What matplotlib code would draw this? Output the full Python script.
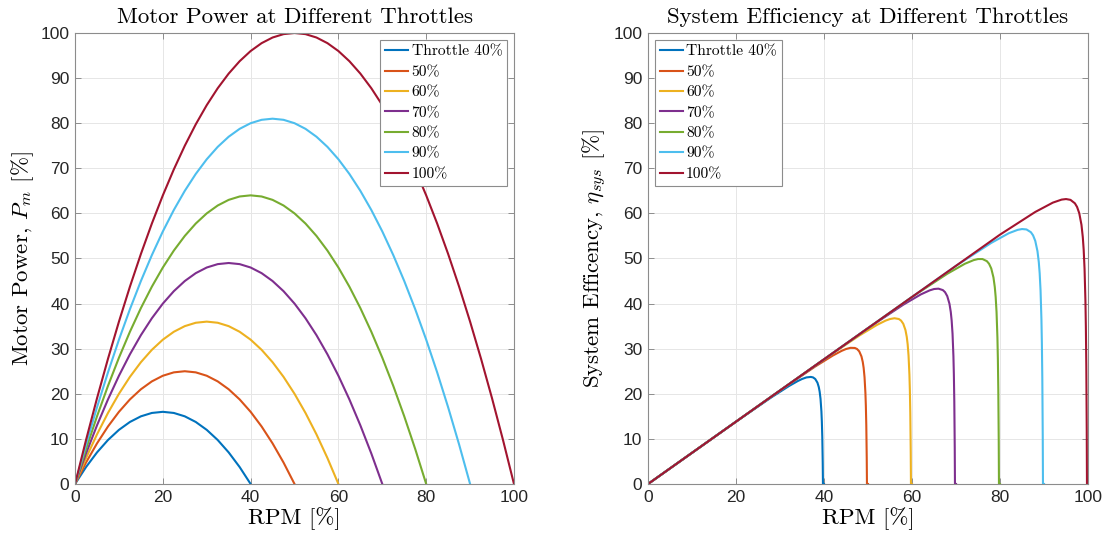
import matplotlib
matplotlib.use('Agg')
import matplotlib.pyplot as plt

# ---- data ----
throttles = ['Throttle 40%', '50%', '60%', '70%', '80%', '90%', '100%']
colors = ['#0072BD', '#D95319', '#EDB120', '#7E2F8E', '#77AC30', '#4DBEEE', '#A2142F']

# shared RPM grid for the motor power curves [%]
rpm_grid = [0, 2.5, 5, 7.5, 10, 12.5, 15, 17.5, 20, 22.5, 25, 27.5, 30, 32.5, 35, 37.5,
            40, 42.5, 45, 47.5, 50, 52.5, 55, 57.5, 60, 62.5, 65, 67.5, 70, 72.5, 75,
            77.5, 80, 82.5, 85, 87.5, 90, 92.5, 95, 97.5, 100]

power_40 = [0, 3.75, 7, 9.75, 12, 13.75, 15, 15.75, 16, 15.75, 15, 13.75, 12, 9.75, 7, 3.75, 0]
power_50 = [0, 4.75, 9, 12.75, 16, 18.75, 21, 22.75, 24, 24.75, 25, 24.75, 24, 22.75, 21,
            18.75, 16, 12.75, 9, 4.75, 0]
power_60 = [0, 5.75, 11, 15.75, 20, 23.75, 27, 29.75, 32, 33.75, 35, 35.75, 36, 35.75, 35,
            33.75, 32, 29.75, 27, 23.75, 20, 15.75, 11, 5.75, 0]
power_70 = [0, 6.75, 13, 18.75, 24, 28.75, 33, 36.75, 40, 42.75, 45, 46.75, 48, 48.75, 49,
            48.75, 48, 46.75, 45, 42.75, 40, 36.75, 33, 28.75, 24, 18.75, 13, 6.75, 0]
power_80 = [0, 7.75, 15, 21.75, 28, 33.75, 39, 43.75, 48, 51.75, 55, 57.75, 60, 61.75, 63,
            63.75, 64, 63.75, 63, 61.75, 60, 57.75, 55, 51.75, 48, 43.75, 39, 33.75, 28,
            21.75, 15, 7.75, 0]
power_90 = [0, 8.75, 17, 24.75, 32, 38.75, 45, 50.75, 56, 60.75, 65, 68.75, 72, 74.75, 77,
            78.75, 80, 80.75, 81, 80.75, 80, 78.75, 77, 74.75, 72, 68.75, 65, 60.75, 56,
            50.75, 45, 38.75, 32, 24.75, 17, 8.75, 0]
power_100 = [0, 9.75, 19, 27.75, 36, 43.75, 51, 57.75, 64, 69.75, 75, 79.75, 84, 87.75, 91,
             93.75, 96, 97.75, 99, 99.75, 100, 99.75, 99, 97.75, 96, 93.75, 91, 87.75, 84,
             79.75, 75, 69.75, 64, 57.75, 51, 43.75, 36, 27.75, 19, 9.75, 0]

# system efficiency curves: RPM [%] and efficiency [%]
eff_rpm_40 = [0, 20, 28, 32, 34, 35, 36, 37, 37.5, 38, 38.5, 38.8, 39, 39.2, 39.4, 39.5, 39.6, 39.7, 39.75, 40]
eff_40 = [0, 13.83, 19.19, 21.70, 22.81, 23.28, 23.63, 23.74, 23.63, 23.28, 22.46, 21.50,
          20.48, 18.87, 16.09, 13.83, 10.40, 4.63, 0, 0]
eff_rpm_50 = [0, 30, 38, 42, 44, 45, 46, 47, 47.5, 48, 48.5, 48.8, 49, 49.2, 49.4, 49.5, 49.6, 49.7, 49.75, 50]
eff_50 = [0, 20.74, 26.05, 28.48, 29.52, 29.93, 30.19, 30.16, 29.93, 29.40, 28.29, 27.04,
          25.73, 23.68, 20.17, 17.33, 13.02, 5.80, 0, 0]
eff_rpm_60 = [0, 40, 48, 52, 54, 55, 56, 57, 57.5, 58, 58.5, 58.8, 59, 59.2, 59.4, 59.5, 59.6, 59.7, 59.75, 60]
eff_60 = [0, 27.65, 32.90, 35.26, 36.23, 36.58, 36.75, 36.58, 36.23, 35.53, 34.13, 32.59,
          30.98, 28.49, 24.26, 20.83, 15.65, 6.97, 0, 0]
eff_rpm_70 = [0, 50, 58, 62, 64, 65, 66, 67, 67.5, 68, 68.5, 68.8, 69, 69.2, 69.4, 69.5, 69.6, 69.7, 69.75, 70]
eff_70 = [0, 34.56, 39.75, 42.04, 42.93, 43.23, 43.31, 42.99, 42.53, 41.65, 39.96, 38.13,
          36.23, 33.30, 28.34, 24.33, 18.27, 8.13, 0, 0]
eff_rpm_80 = [0, 60, 68, 72, 74, 75, 76, 77, 77.5, 78, 78.5, 78.8, 79, 79.2, 79.4, 79.5, 79.6, 79.7, 79.75, 80]
eff_80 = [0, 41.48, 46.61, 48.83, 49.64, 49.88, 49.88, 49.41, 48.83, 47.78, 45.79, 43.67,
          41.48, 38.12, 32.42, 27.83, 20.90, 9.30, 0, 0]
eff_rpm_90 = [0, 70, 78, 82, 84, 85, 86, 87, 87.5, 88, 88.5, 88.8, 89, 89.2, 89.4, 89.5, 89.6, 89.7, 89.75, 90]
eff_90 = [0, 48.39, 53.46, 55.61, 56.35, 56.53, 56.44, 55.83, 55.13, 53.90, 51.62, 49.21,
          46.73, 42.93, 36.51, 31.33, 23.52, 10.47, 0, 0]
eff_rpm_100 = [0, 80, 88, 92, 94, 95, 96, 97, 97.5, 98, 98.5, 98.8, 99, 99.2, 99.4, 99.5, 99.6, 99.7, 99.75, 100]
eff_100 = [0, 55.30, 60.32, 62.39, 63.06, 63.18, 63.00, 62.24, 61.43, 60.03, 57.46, 54.75,
           51.98, 47.74, 40.59, 34.83, 26.15, 11.63, 0, 0]

power_curves = [power_40, power_50, power_60, power_70, power_80, power_90, power_100]
eff_curves = [(eff_rpm_40, eff_40), (eff_rpm_50, eff_50), (eff_rpm_60, eff_60),
              (eff_rpm_70, eff_70), (eff_rpm_80, eff_80), (eff_rpm_90, eff_90),
              (eff_rpm_100, eff_100)]

ticks = [0, 20, 40, 60, 80, 100]
yticks = list(range(0, 101, 10))

plt.rcParams['mathtext.fontset'] = 'cm'
serif = 'cmr10'
tick_font = 'Liberation Sans'

fig = plt.figure(figsize=(11.07, 5.41), dpi=100)
ax1 = fig.add_axes([0.0678, 0.1054, 0.3965, 0.8336])
ax2 = fig.add_axes([0.5854, 0.1054, 0.3975, 0.8336])


def style(ax):
    ax.set_xlim(0, 100)
    ax.set_ylim(0, 100)
    ax.set_xticks(ticks)
    ax.set_yticks(yticks)
    ax.grid(True, color='#e6e6e6', linewidth=0.7)
    ax.set_axisbelow(True)
    ax.tick_params(direction='in', length=4, width=0.6, top=True, right=True,
                   colors='#7f7f7f', labelcolor='#262626', labelsize=12.5, pad=4)
    for lab in ax.get_xticklabels() + ax.get_yticklabels():
        lab.set_fontfamily(tick_font)
    for sp in ax.spines.values():
        sp.set_edgecolor('#8c8c8c')
        sp.set_linewidth(0.8)


def legend(ax, where):
    leg = ax.legend(loc=where, prop={'family': serif, 'size': 11.2},
                    handlelength=1.5, handletextpad=0.2, labelspacing=0.42,
                    borderpad=0.3, borderaxespad=0.45, fancybox=False, framealpha=1)
    leg.get_frame().set_edgecolor('#8c8c8c')
    leg.get_frame().set_linewidth(0.8)


# ─── Motor power ───
for p, c, lab in zip(power_curves, colors, throttles):
    ax1.plot(rpm_grid[:len(p)], p, color=c, linewidth=1.5, label=lab)
style(ax1)
ax1.set_title('Motor Power at Different Throttles', fontfamily=serif, fontsize=16.5, pad=7)
ax1.set_xlabel('RPM [%]', fontfamily=serif, fontsize=16.5, labelpad=2)
ax1.set_ylabel('Motor Power, $P_m$ [%]', fontfamily=serif, fontsize=16.5, labelpad=3)
legend(ax1, 'upper right')

# ─── System efficiency ───
for (r, e), c, lab in zip(eff_curves, colors, throttles):
    ax2.plot(r, e, color=c, linewidth=1.5, label=lab)
style(ax2)
ax2.set_title('System Efficiency at Different Throttles', fontfamily=serif, fontsize=16.5, pad=7)
ax2.set_xlabel('RPM [%]', fontfamily=serif, fontsize=16.5, labelpad=2)
ax2.set_ylabel(r'System Efficency, $\eta_{sys}$ [%]', fontfamily=serif, fontsize=16.5, labelpad=3)
legend(ax2, 'upper left')

fig.savefig('out.png', dpi=100, facecolor='white')
